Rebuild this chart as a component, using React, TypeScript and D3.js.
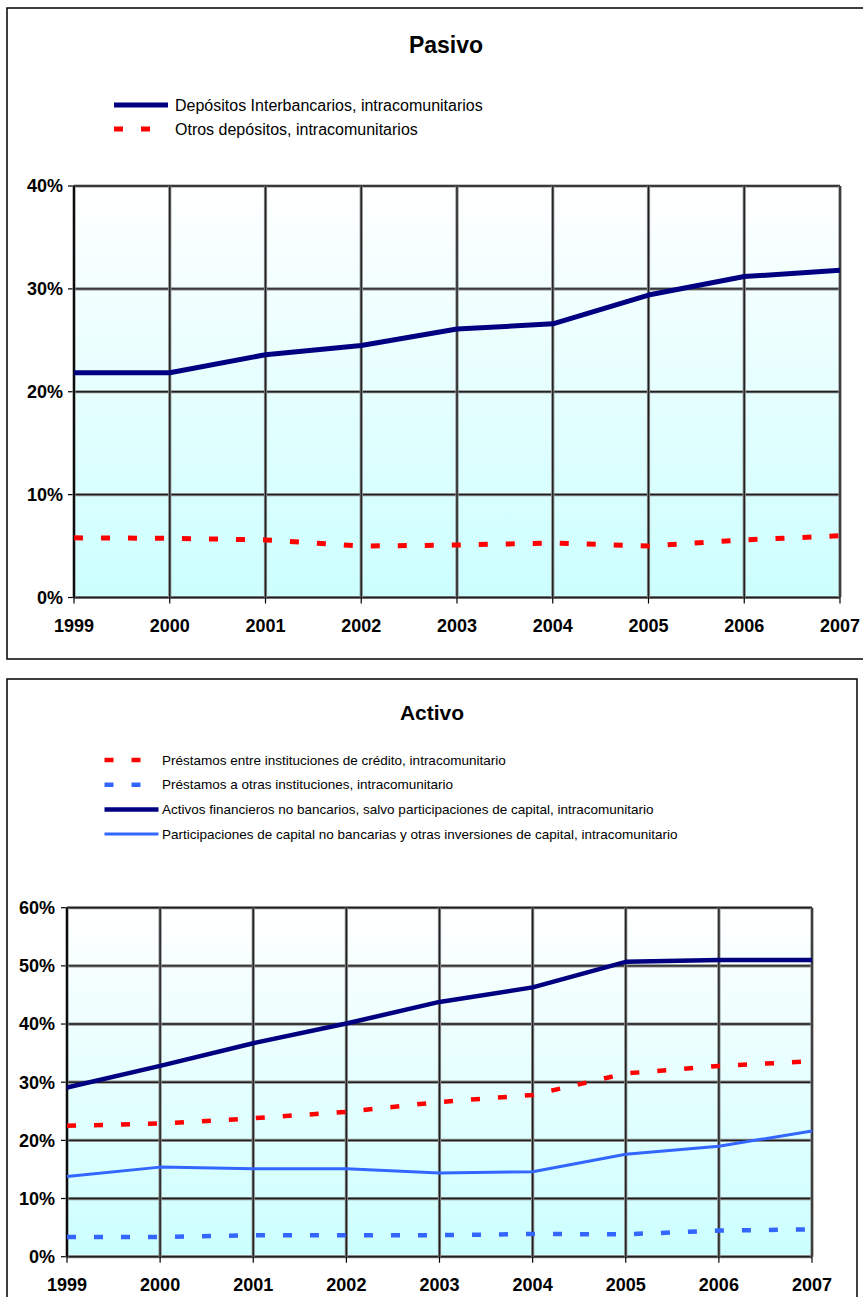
import React from "react";
import * as d3 from "d3";

// Years on the category axis, shared by both panels
const YEARS = ["1999", "2000", "2001", "2002", "2003", "2004", "2005", "2006", "2007"];

// Pasivo (% share)
const PASIVO_INTERBANCARIOS = [21.85, 21.85, 23.6, 24.5, 26.1, 26.6, 29.4, 31.2, 31.8];
const PASIVO_OTROS = [5.8, 5.75, 5.6, 5.0, 5.1, 5.3, 5.0, 5.6, 6.0];
const PASIVO_TICKS = [0, 10, 20, 30, 40];

// Activo (% share)
const ACTIVO_PRESTAMOS_CREDITO = [22.5, 22.9, 23.8, 24.9, 26.6, 27.8, 31.5, 32.8, 33.6];
const ACTIVO_PRESTAMOS_OTRAS = [3.4, 3.4, 3.7, 3.7, 3.7, 3.9, 3.85, 4.5, 4.7];
const ACTIVO_FINANCIEROS = [29.1, 32.8, 36.7, 40.1, 43.8, 46.3, 50.7, 51.0, 51.0];
const ACTIVO_PARTICIPACIONES = [13.8, 15.4, 15.1, 15.1, 14.4, 14.6, 17.6, 19.0, 21.6];
const ACTIVO_TICKS = [0, 10, 20, 30, 40, 50, 60];

const FONT = "'Liberation Sans', Arial, Helvetica, sans-serif";

type Series = {
  name: string;
  values: number[];
  color: string;
  width: number;
  dash?: string;
};

type PanelProps = {
  id: string;
  title: string;
  titleSize: number;
  titleX: number;
  titleY: number;
  frame: { x: number; y: number; w: number; h: number };
  plot: { left: number; right: number; top: number; bottom: number };
  ticks: number[];
  series: Series[];
  legend: { lineX0: number; lineX1: number; textX: number; y0: number; step: number; fontSize: number };
  yLabelRight: number;
  xLabelY: number;
};

function Panel(p: PanelProps) {
  const { plot, ticks } = p;
  const x = d3.scalePoint<string>().domain(YEARS).range([plot.left, plot.right]).padding(0);
  const y = d3
    .scaleLinear()
    .domain([0, d3.max(ticks) as number])
    .range([plot.bottom, plot.top]);

  const line = d3
    .line<number>()
    .x((_, i) => x(YEARS[i]) as number)
    .y((v) => y(v));

  const gradId = `bg-${p.id}`;

  return (
    <g>
      <defs>
        <linearGradient id={gradId} x1="0" y1="0" x2="0" y2="1">
          <stop offset="0%" stopColor="#ffffff" />
          <stop offset="100%" stopColor="#ccffff" />
        </linearGradient>
      </defs>

      {/* chart frame */}
      <rect
        x={p.frame.x}
        y={p.frame.y}
        width={p.frame.w}
        height={p.frame.h}
        fill="#ffffff"
        stroke="#000"
        strokeWidth={1.5}
      />

      <text
        x={p.titleX}
        y={p.titleY}
        textAnchor="middle"
        dy="0.35em"
        fontFamily={FONT}
        fontWeight="bold"
        fontSize={p.titleSize}
        fill="#000"
      >
        {p.title}
      </text>

      {/* legend */}
      {p.series.map((s, i) => {
        const ly = p.legend.y0 + i * p.legend.step;
        return (
          <g key={s.name}>
            <line
              x1={p.legend.lineX0}
              x2={p.legend.lineX1}
              y1={ly}
              y2={ly}
              stroke={s.color}
              strokeWidth={s.width}
              strokeDasharray={s.dash}
            />
            <text
              x={p.legend.textX}
              y={ly}
              dy="0.35em"
              fontFamily={FONT}
              fontSize={p.legend.fontSize}
              fill="#000"
            >
              {s.name}
            </text>
          </g>
        );
      })}

      {/* plot area */}
      <rect
        x={plot.left}
        y={plot.top}
        width={plot.right - plot.left}
        height={plot.bottom - plot.top}
        fill={`url(#${gradId})`}
      />

      {/* gridlines: grey halo under a dark core */}
      {ticks.map((t) => (
        <g key={`h${t}`}>
          <line x1={plot.left} x2={plot.right} y1={y(t)} y2={y(t)} stroke="#8c8c8c" strokeWidth={3.2} />
          <line x1={plot.left} x2={plot.right} y1={y(t)} y2={y(t)} stroke="#1e1e1e" strokeWidth={1.4} />
          <line x1={plot.left - 6} x2={plot.left} y1={y(t)} y2={y(t)} stroke="#000" strokeWidth={1.2} />
          <text
            x={p.yLabelRight}
            y={y(t)}
            dy="0.35em"
            textAnchor="end"
            fontFamily={FONT}
            fontWeight="bold"
            fontSize={18}
            fill="#000"
          >
            {`${t}%`}
          </text>
        </g>
      ))}
      {YEARS.map((yr) => (
        <g key={`v${yr}`}>
          <line x1={x(yr)} x2={x(yr)} y1={plot.top} y2={plot.bottom} stroke="#8c8c8c" strokeWidth={3.2} />
          <line x1={x(yr)} x2={x(yr)} y1={plot.top} y2={plot.bottom} stroke="#1e1e1e" strokeWidth={1.4} />
          <line x1={x(yr)} x2={x(yr)} y1={plot.bottom} y2={plot.bottom + 6} stroke="#000" strokeWidth={1.2} />
          <text
            x={x(yr)}
            y={p.xLabelY}
            dy="0.35em"
            textAnchor="middle"
            fontFamily={FONT}
            fontWeight="bold"
            fontSize={18}
            fill="#000"
          >
            {yr}
          </text>
        </g>
      ))}
      <line x1={plot.left} x2={plot.left} y1={plot.top} y2={plot.bottom} stroke="#000" strokeWidth={1.6} />

      {/* data lines */}
      {p.series.map((s) => (
        <path
          key={`p-${s.name}`}
          d={line(s.values) as string}
          fill="none"
          stroke={s.color}
          strokeWidth={s.width}
          strokeDasharray={s.dash}
          strokeLinejoin="round"
        />
      ))}
    </g>
  );
}

export default function App() {
  const pasivoSeries: Series[] = [
    { name: "Depósitos Interbancarios, intracomunitarios", values: PASIVO_INTERBANCARIOS, color: "#000080", width: 5 },
    { name: "Otros depósitos, intracomunitarios", values: PASIVO_OTROS, color: "#ff0000", width: 5, dash: "9,18" },
  ];
  const activoSeries: Series[] = [
    {
      name: "Préstamos entre instituciones de crédito, intracomunitario",
      values: ACTIVO_PRESTAMOS_CREDITO,
      color: "#ff0000",
      width: 4.5,
      dash: "9,18",
    },
    {
      name: "Préstamos a otras instituciones, intracomunitario",
      values: ACTIVO_PRESTAMOS_OTRAS,
      color: "#3366ff",
      width: 4.5,
      dash: "9,18",
    },
    {
      name: "Activos financieros no bancarios, salvo participaciones de capital, intracomunitario",
      values: ACTIVO_FINANCIEROS,
      color: "#000080",
      width: 4.5,
    },
    {
      name: "Participaciones de capital no bancarias y otras inversiones de capital, intracomunitario",
      values: ACTIVO_PARTICIPACIONES,
      color: "#3366ff",
      width: 3,
    },
  ];

  return (
    <svg
      width={863}
      height={1297}
      style={{ position: "absolute", left: 0, top: 0, background: "#fff" }}
    >
      <Panel
        id="pasivo"
        title="Pasivo"
        titleSize={23}
        titleX={446}
        titleY={45}
        frame={{ x: 7, y: 8, w: 880, h: 651 }}
        plot={{ left: 74, right: 840, top: 186, bottom: 597.5 }}
        ticks={PASIVO_TICKS}
        series={pasivoSeries}
        legend={{ lineX0: 114, lineX1: 168, textX: 175, y0: 105, step: 24, fontSize: 16 }}
        yLabelRight={63}
        xLabelY={626}
      />
      <Panel
        id="activo"
        title="Activo"
        titleSize={21}
        titleX={432}
        titleY={713}
        frame={{ x: 7, y: 679, w: 850, h: 640 }}
        plot={{ left: 67, right: 812, top: 907.7, bottom: 1256.7 }}
        ticks={ACTIVO_TICKS}
        series={activoSeries}
        legend={{ lineX0: 104.5, lineX1: 158.5, textX: 162, y0: 760, step: 24.7, fontSize: 13.5 }}
        yLabelRight={55}
        xLabelY={1285}
      />
    </svg>
  );
}
